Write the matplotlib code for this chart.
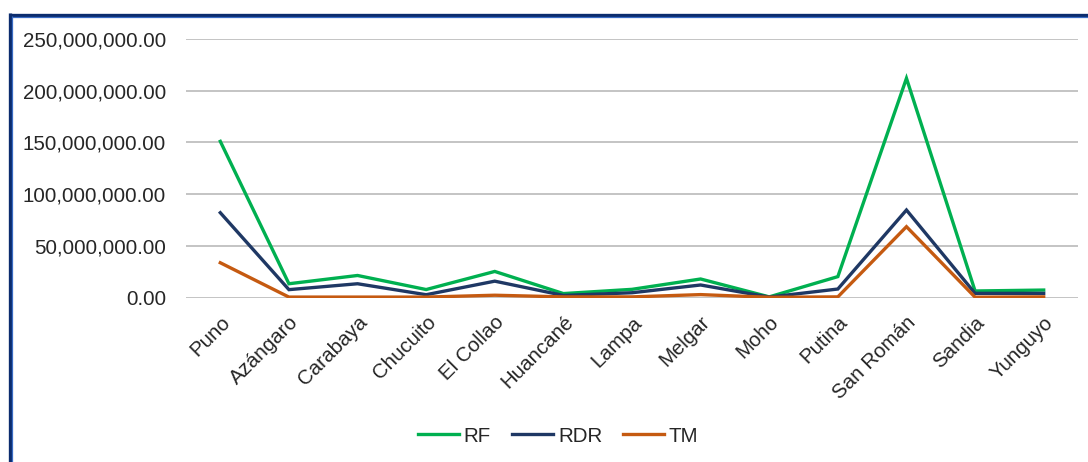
import matplotlib
matplotlib.use("Agg")
import matplotlib.pyplot as plt
from matplotlib.lines import Line2D
from matplotlib.ticker import FuncFormatter, MultipleLocator

plt.rcParams['font.family'] = ['Liberation Sans', 'DejaVu Sans']

provinces = ["Puno", "Azángaro", "Carabaya", "Chucuito", "El Collao", "Huancané",
             "Lampa", "Melgar", "Moho", "Putina", "San Román", "Sandia", "Yunguyo"]
rf = [151e6, 13.3e6, 21.3e6, 7.7e6, 25.2e6, 3.8e6, 7.9e6, 17.9e6, 0.6e6, 20.2e6, 212e6, 6.3e6, 7.2e6]
rdr = [82e6, 7.6e6, 13.3e6, 2.7e6, 15.8e6, 2.0e6, 4.6e6, 12.1e6, 0.4e6, 8.2e6, 84.6e6, 4.0e6, 4.0e6]
tm = [33.6e6, 0.4e6, 0.4e6, 0.4e6, 2.2e6, 0.6e6, 0.6e6, 2.8e6, 0.2e6, 0.6e6, 68.5e6, 0.3e6, 0.6e6]

series = [("RF", rf, "#00B050"), ("RDR", rdr, "#1F3864"), ("TM", tm, "#C55A11")]

W, H = 1088, 462
FS = 14.8
fig = plt.figure(figsize=(W / 100, H / 100), dpi=100)
ax = fig.add_axes([186 / W, 1 - 297.5 / H, (1078 - 186) / W, (297.5 - 39) / H])

x = list(range(len(provinces)))
for name, vals, col in series:
    ax.plot(x, vals, color=col, lw=2.4, label=name, solid_joinstyle='miter', zorder=3)

ax.set_xlim(-0.5, len(provinces) - 0.5)
ax.set_ylim(0, 250e6)
ax.yaxis.set_major_locator(MultipleLocator(50e6))
ax.yaxis.set_major_formatter(FuncFormatter(lambda v, p: f"{v:,.2f}"))
ax.grid(axis='y', color='#bfbfbf', lw=1.3, zorder=0)
for s in ax.spines.values():
    s.set_visible(False)
ax.tick_params(axis='y', length=0, pad=14.4, labelsize=FS, labelcolor='#262626')
ax.tick_params(axis='x', length=0, pad=11, labelsize=FS, labelcolor='#262626')
ax.set_xticks(x)
ax.set_xticklabels(provinces, rotation=45, ha='right', va='top', rotation_mode='anchor')

handles = [Line2D([], [], color=c, lw=2.4) for _, _, c in series]
fig.legend(handles, [n for n, _, _ in series], loc='center', bbox_to_anchor=(558 / W, 1 - 436 / H),
           ncol=3, frameon=False, fontsize=FS, handlelength=2.0, handletextpad=0.25,
           columnspacing=1.0)
for t in fig.legends[0].get_texts():
    t.set_color('#262626')

# window frame along the top and left edges
fig.add_artist(Line2D([8.5 / W, 1], [1 - 14.5 / H, 1 - 14.5 / H], transform=fig.transFigure,
                      color='#0B2C6E', lw=2.4, solid_capstyle='butt'))
fig.add_artist(Line2D([8.5 / W, 1], [1 - 16.8 / H, 1 - 16.8 / H], transform=fig.transFigure,
                      color='#3A6CC4', lw=0.9, solid_capstyle='butt'))
fig.add_artist(Line2D([9.5 / W, 9.5 / W], [0, 1 - 13.3 / H], transform=fig.transFigure,
                      color='#0B2C6E', lw=2.4, solid_capstyle='butt'))
fig.add_artist(Line2D([11.8 / W, 11.8 / W], [0, 1 - 15.5 / H], transform=fig.transFigure,
                      color='#3A6CC4', lw=0.9, solid_capstyle='butt'))

fig.savefig("out.png", dpi=100)
